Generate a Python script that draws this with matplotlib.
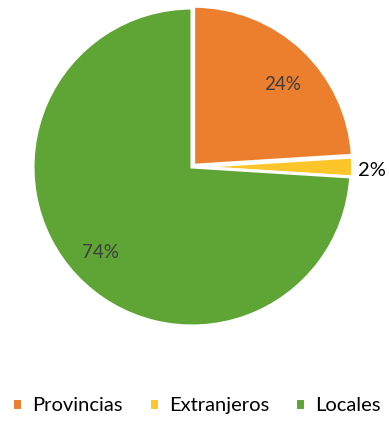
import matplotlib.pyplot as plt

plt.rcParams['font.family'] = ['Lato', 'DejaVu Sans']

labels = ['Provincias', 'Extranjeros', 'Locales']
values = [24, 2, 74]
colors = ['#EC7F2E', '#FCC52A', '#5EA535']

fig = plt.figure(figsize=(3.89, 4.21), dpi=100)
ax = fig.add_axes([33 / 389, 95 / 421, 318 / 389, 318 / 421])

wedges, texts, autotexts = ax.pie(
    values, colors=colors, startangle=90, counterclock=False,
    explode=[0.015, 0.01, 0], autopct='%d%%', pctdistance=0.79,
    wedgeprops=dict(edgecolor='white', linewidth=2.2),
    textprops=dict(fontsize=13.5, color='#3d3d3d'))

# nudge the labels a little
autotexts[0].set_position((0.57, 0.52))
autotexts[1].set_position((1.13, -0.02))
autotexts[1].set_color('black')
autotexts[1].set_fontsize(14.5)

ax.set_xlim(-1, 1)
ax.set_ylim(-1, 1)
ax.set_aspect('equal')

fig.legend(wedges, labels, loc='lower center', bbox_to_anchor=(0.505, -0.027),
           ncol=3, frameon=False, fontsize=14.5, handlelength=0.5,
           handleheight=0.5, handletextpad=0.5, columnspacing=1.3)

fig.savefig('out.png', dpi=100)
